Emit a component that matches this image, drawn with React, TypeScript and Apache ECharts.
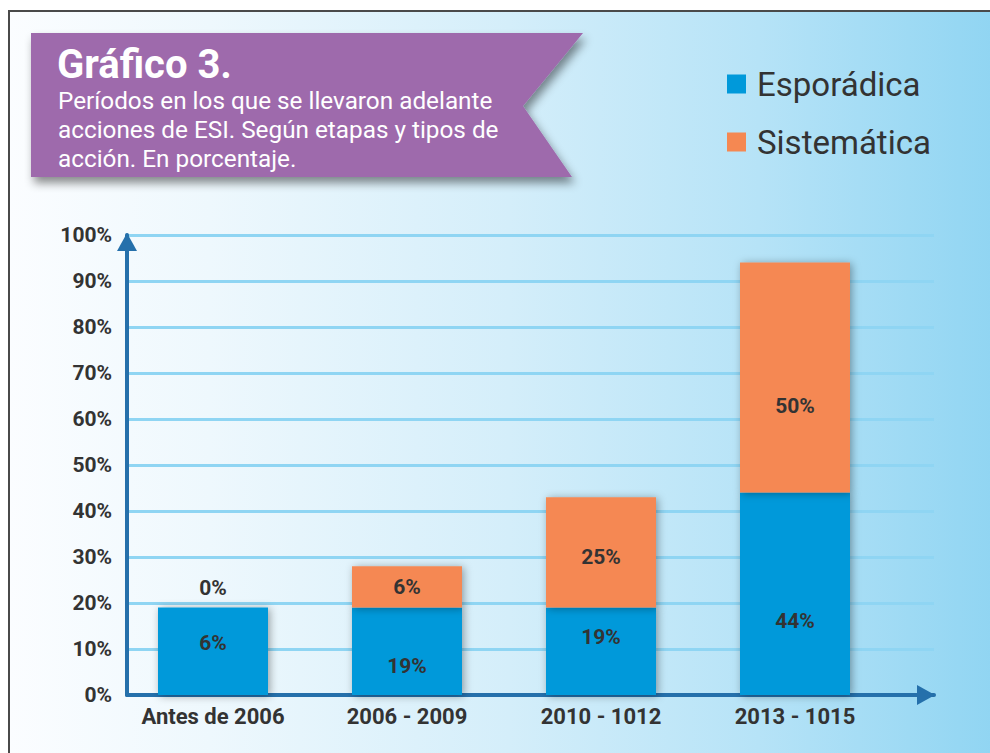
import React, { useEffect, useRef } from 'react';
import * as echarts from 'echarts';

// ---- data ----
const categories = ['Antes de 2006', '2006 - 2009', '2010 - 1012', '2013 - 1015'];
const seriesNames = ['Esporádica', 'Sistemática'];
// bar heights as drawn on the chart (percent of axis)
const esporadicaHeight = [19, 19, 19, 44];
const sistematicaHeight = [0, 9, 24, 50];
// values printed on the bars
const esporadicaLabel = ['6%', '19%', '19%', '44%'];
const sistematicaLabel = ['0%', '6%', '25%', '50%'];
const yMin = 0;
const yMax = 100;
const yInterval = 10;
const titleText = 'Gráfico 3.';
const subtitleLines = [
  'Períodos en los que se llevaron adelante',
  'acciones de ESI. Según etapas y tipos de',
  'acción. En porcentaje.',
];

// ---- styling only: vertical nudges of printed labels (px) ----
const esporadicaLabelShift = [-8, 15, -14, 27];
const sistematicaLabelShift = [-20, 0, 5, 28];

const FONT = 'Roboto';
const BLUE = '#0099da';
const ORANGE = '#f58852';
const AXIS = '#2570ab';
const GRIDLINE = '#8fd5f3';
const TEXT = '#333333';

export default function App() {
  const ref = useRef<HTMLDivElement>(null);

  useEffect(() => {
    if (!ref.current) return;
    const chart = echarts.init(ref.current, undefined, { renderer: 'svg' });

    const barShadow = {
      shadowBlur: 8,
      shadowColor: 'rgba(0,0,0,0.35)',
      shadowOffsetX: 2,
      shadowOffsetY: 1,
    };

    const labelBase = {
      show: true,
      position: 'inside',
      color: TEXT,
      fontFamily: FONT,
      fontWeight: 'bold',
      fontSize: 21,
    };

    const option: any = {
      animation: false,
      textStyle: { fontFamily: FONT },
      graphic: [
        {
          type: 'rect',
          z: -10,
          silent: true,
          shape: { x: 9, y: 11, width: 1000, height: 760 },
          style: {
            fill: new echarts.graphic.LinearGradient(0, 0, 1, 0, [
              { offset: 0, color: '#fbfdff' },
              { offset: 0.2, color: '#eef8fd' },
              { offset: 0.5, color: '#d4eefa' },
              { offset: 0.75, color: '#b6e3f7' },
              { offset: 1, color: '#8ed4f2' },
            ]),
            stroke: '#4a4a4a',
            lineWidth: 2,
          },
        },
        {
          type: 'polygon',
          z: 10,
          silent: true,
          shape: {
            points: [
              [31, 33],
              [583, 33],
              [523, 106],
              [572, 177],
              [31, 177],
            ],
          },
          style: {
            fill: '#9e6aac',
            shadowBlur: 10,
            shadowColor: 'rgba(0,0,0,0.45)',
            shadowOffsetX: 3,
            shadowOffsetY: 6,
          },
        },
        {
          type: 'text',
          z: 11,
          silent: true,
          x: 57,
          y: 64,
          style: {
            text: titleText,
            fill: '#ffffff',
            fontFamily: FONT,
            fontWeight: 'bold',
            fontSize: 40,
            verticalAlign: 'middle',
          },
        },
        {
          type: 'text',
          z: 11,
          silent: true,
          x: 58,
          y: 86,
          style: {
            text: subtitleLines.join('\n'),
            fill: '#ffffff',
            fontFamily: FONT,
            fontSize: 24.3,
            lineHeight: 29,
            verticalAlign: 'top',
          },
        },
      ],
      legend: {
        orient: 'vertical',
        left: 722,
        top: 60,
        itemWidth: 19,
        itemHeight: 19,
        itemGap: 20,
        icon: 'rect',
        data: seriesNames,
        textStyle: {
          color: TEXT,
          fontFamily: FONT,
          fontSize: 33,
          lineHeight: 38,
          padding: [0, 0, 0, 6],
        },
      },
      grid: [
        { left: 116, top: 235, width: 776, height: 460 },
        { left: 127, top: 235, width: 807, height: 460 },
      ],
      xAxis: [
        {
          gridIndex: 0,
          type: 'category',
          data: categories,
          axisLine: { show: false },
          axisTick: { show: false },
          axisLabel: {
            color: TEXT,
            fontFamily: FONT,
            fontWeight: 'bold',
            fontSize: 22,
            margin: 10,
          },
        },
        {
          gridIndex: 1,
          type: 'value',
          min: 0,
          max: 1,
          axisLabel: { show: false },
          axisTick: { show: false },
          splitLine: { show: false },
          axisLine: {
            show: true,
            onZero: false,
            symbol: ['none', 'triangle'],
            symbolSize: [20, 18],
            symbolOffset: [0, -8],
            lineStyle: { color: AXIS, width: 4 },
          },
        },
      ],
      yAxis: [
        {
          gridIndex: 0,
          type: 'value',
          min: yMin,
          max: yMax,
          interval: yInterval,
          show: false,
        },
        {
          gridIndex: 1,
          type: 'value',
          min: yMin,
          max: yMax,
          interval: yInterval,
          axisTick: { show: false },
          axisLabel: {
            formatter: '{value}%',
            color: TEXT,
            fontFamily: FONT,
            fontWeight: 'bold',
            fontSize: 21,
            margin: 15,
          },
          splitLine: { show: true, lineStyle: { color: GRIDLINE, width: 3 } },
          axisLine: {
            show: true,
            onZero: false,
            symbol: ['none', 'triangle'],
            symbolSize: [20, 18],
            symbolOffset: [0, -7],
            lineStyle: { color: AXIS, width: 4 },
          },
        },
      ],
      series: [
        {
          name: seriesNames[0],
          type: 'bar',
          stack: 'total',
          xAxisIndex: 0,
          yAxisIndex: 0,
          barWidth: 110,
          itemStyle: { color: BLUE, ...barShadow },
          label: {
            ...labelBase,
            formatter: (p: any) => esporadicaLabel[p.dataIndex],
          },
          data: esporadicaHeight.map((v, i) => ({
            value: v,
            label: { offset: [0, esporadicaLabelShift[i]] },
          })),
        },
        {
          name: seriesNames[1],
          type: 'bar',
          stack: 'total',
          xAxisIndex: 0,
          yAxisIndex: 0,
          barWidth: 110,
          itemStyle: { color: ORANGE, ...barShadow },
          label: {
            ...labelBase,
            formatter: (p: any) => sistematicaLabel[p.dataIndex],
          },
          data: sistematicaHeight.map((v, i) => ({
            value: v,
            label: { offset: [0, sistematicaLabelShift[i]] },
          })),
        },
      ],
    };

    chart.setOption(option);
    return () => chart.dispose();
  }, []);

  return (
    <div
      ref={ref}
      style={{ position: 'fixed', left: 0, top: 0, width: 990, height: 753, background: '#ffffff' }}
    />
  );
}
